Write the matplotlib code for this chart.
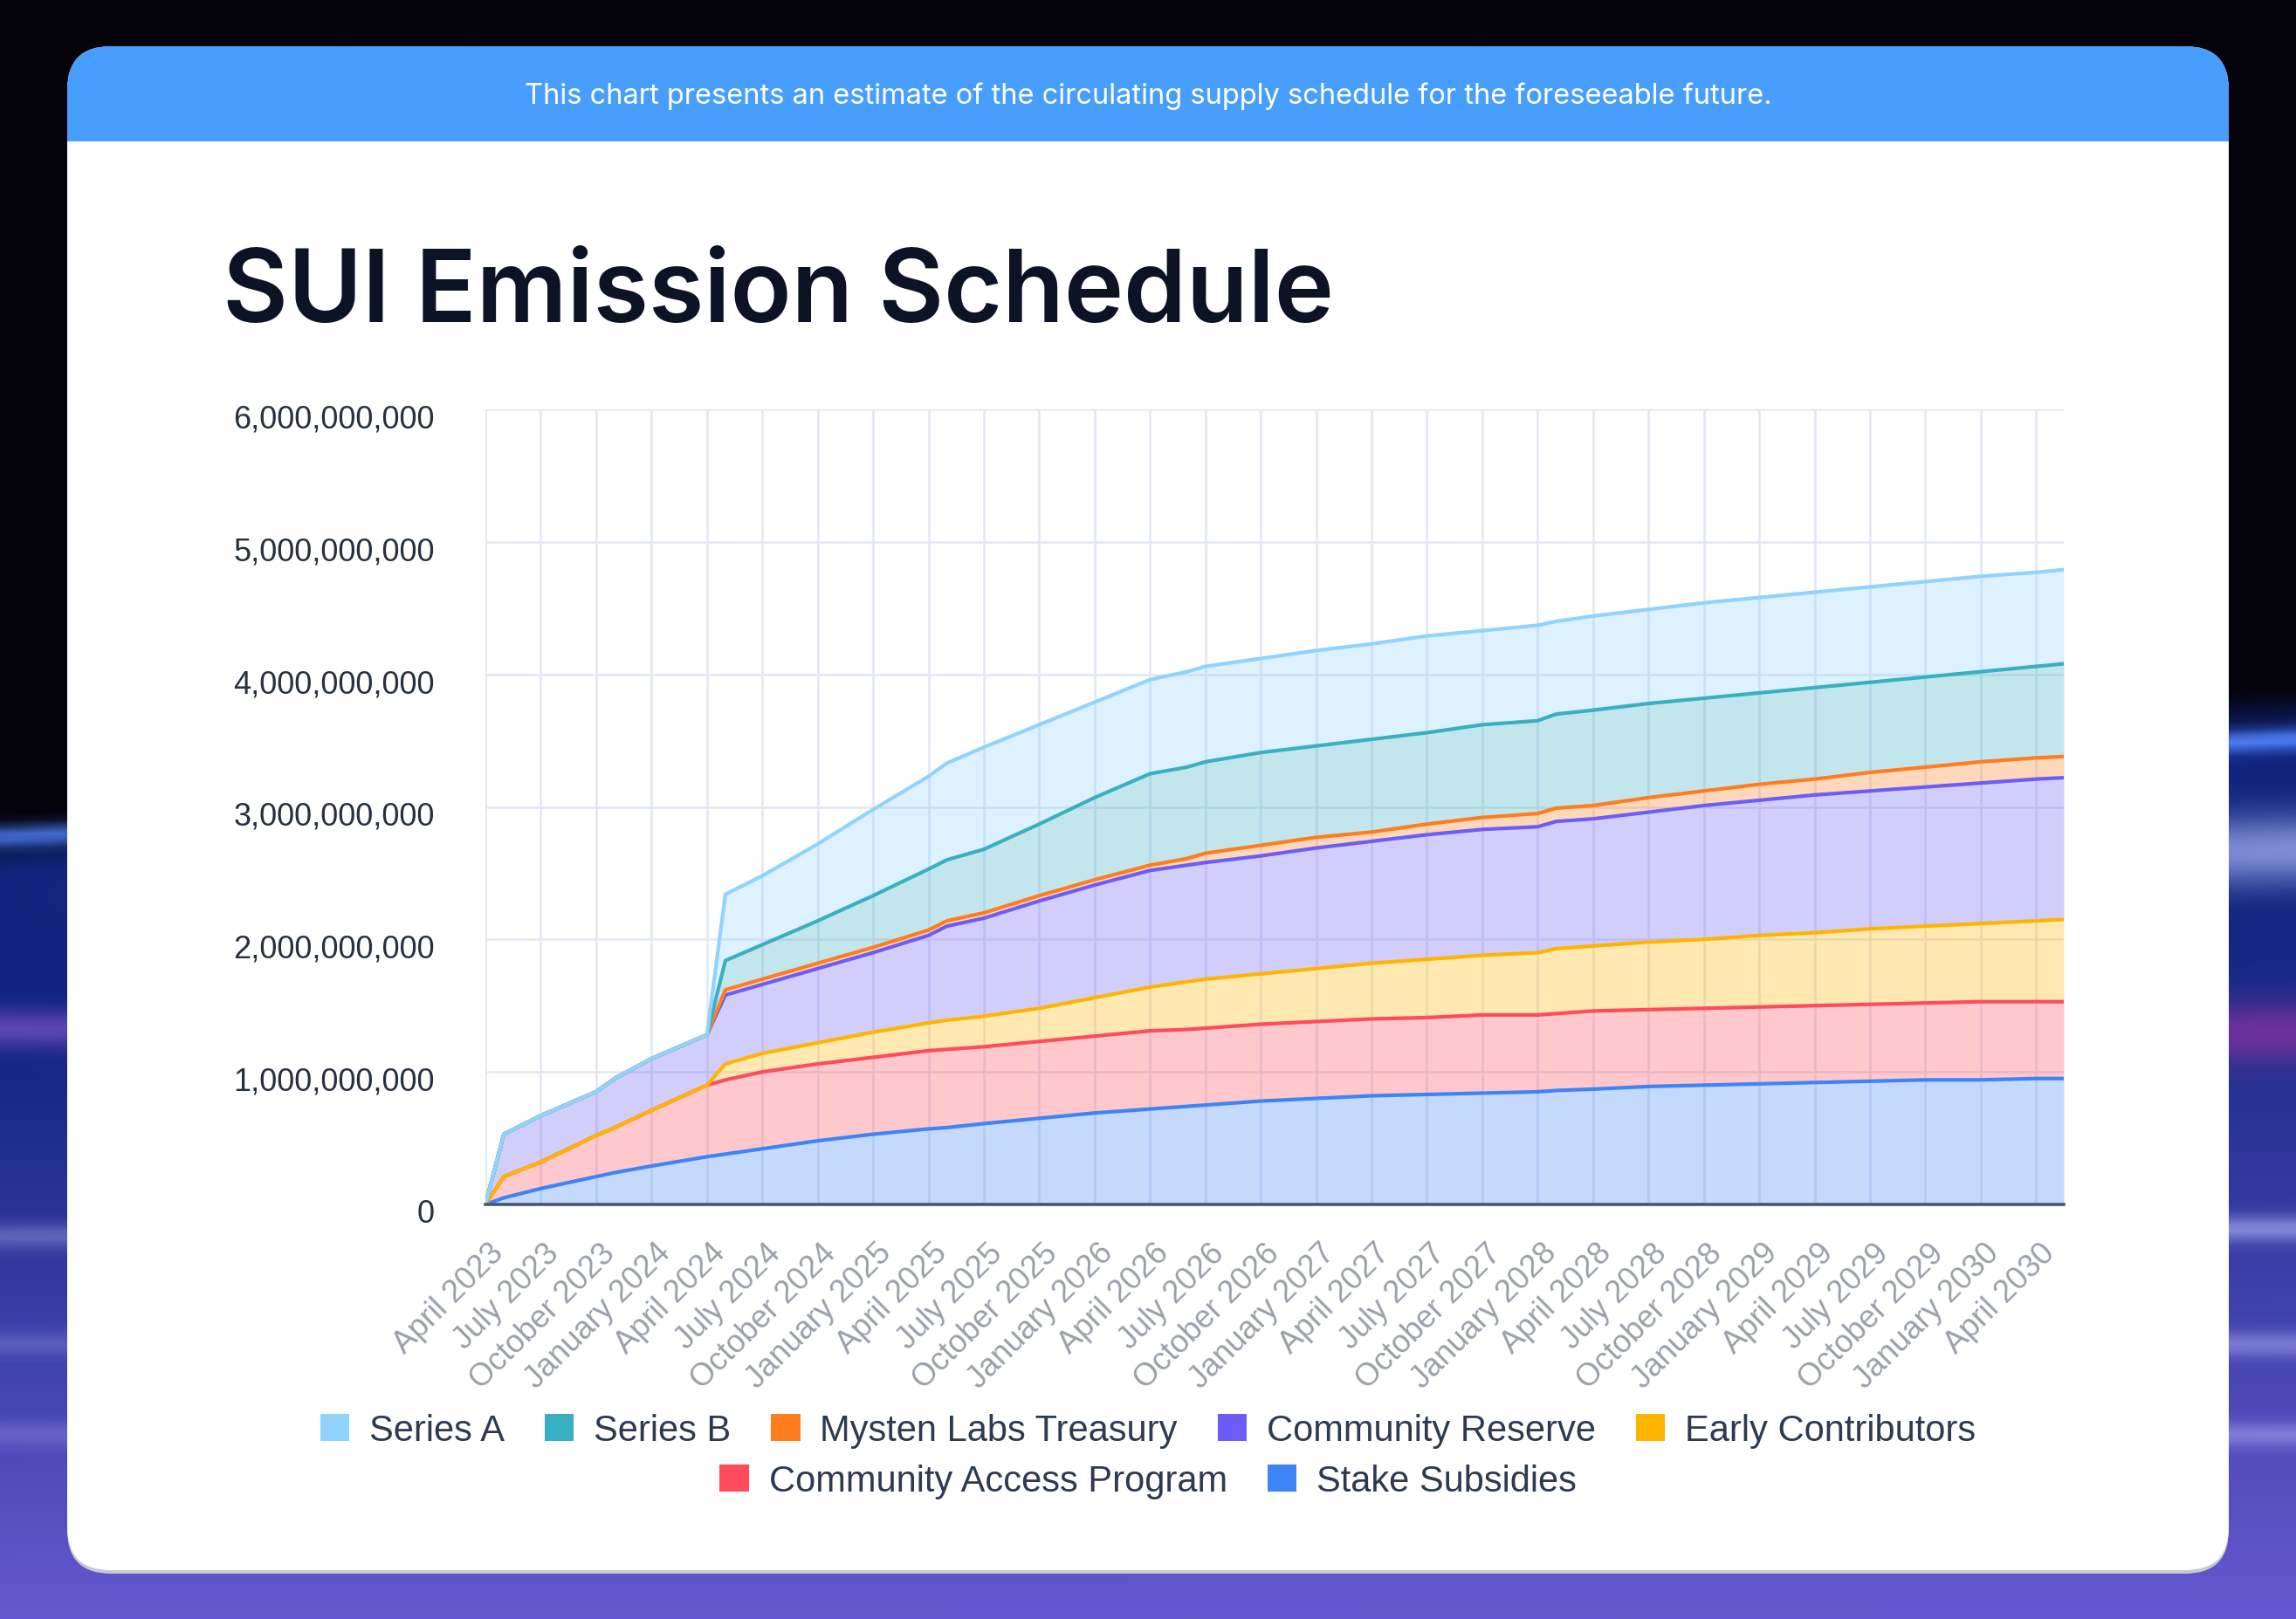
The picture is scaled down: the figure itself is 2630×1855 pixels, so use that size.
import numpy as np
import matplotlib.pyplot as plt
import matplotlib.transforms as mtransforms
from matplotlib.patches import FancyBboxPatch, Rectangle, Patch
from matplotlib.ticker import FuncFormatter

W, H = 2630, 1856

months = [0, 1, 3, 6, 7, 9, 12, 13, 15, 18, 21, 24, 25, 27, 30, 33, 36, 38, 39,
          42, 45, 48, 51, 54, 57, 58, 60, 63, 66, 69, 72, 75, 78, 81, 84, 85.5]

tick_labels = ["April 2023", "July 2023", "October 2023", "January 2024",
               "April 2024", "July 2024", "October 2024", "January 2025",
               "April 2025", "July 2025", "October 2025", "January 2026",
               "April 2026", "July 2026", "October 2026", "January 2027",
               "April 2027", "July 2027", "October 2027", "January 2028",
               "April 2028", "July 2028", "October 2028", "January 2029",
               "April 2029", "July 2029", "October 2029", "January 2030",
               "April 2030"]

# stacked totals (top edge of each band), in billions of SUI
stake_top = [0, 0.05, 0.12, 0.21, 0.24, 0.29, 0.36, 0.38, 0.42, 0.48, 0.53, 0.57,
             0.58, 0.61, 0.65, 0.69, 0.72, 0.74, 0.75, 0.78, 0.80, 0.82, 0.83,
             0.84, 0.85, 0.86, 0.87, 0.89, 0.90, 0.91, 0.92, 0.93, 0.94, 0.94,
             0.95, 0.95]
cap_top = [0, 0.21, 0.32, 0.52, 0.58, 0.71, 0.90, 0.94, 1.00, 1.06, 1.11, 1.16,
           1.17, 1.19, 1.23, 1.27, 1.31, 1.32, 1.33, 1.36, 1.38, 1.40, 1.41,
           1.43, 1.43, 1.44, 1.46, 1.47, 1.48, 1.49, 1.50, 1.51, 1.52, 1.53,
           1.53, 1.53]
early_top = [0, 0.21, 0.32, 0.52, 0.58, 0.71, 0.90, 1.06, 1.14, 1.22, 1.30, 1.37,
             1.39, 1.42, 1.48, 1.56, 1.64, 1.68, 1.70, 1.74, 1.78, 1.82, 1.85,
             1.88, 1.90, 1.93, 1.95, 1.98, 2.00, 2.03, 2.05, 2.08, 2.10, 2.12,
             2.14, 2.15]
reserve_top = [0, 0.53, 0.67, 0.85, 0.95, 1.10, 1.28, 1.58, 1.66, 1.78, 1.90, 2.03,
               2.10, 2.16, 2.29, 2.41, 2.52, 2.56, 2.58, 2.63, 2.69, 2.74, 2.79,
               2.83, 2.85, 2.89, 2.91, 2.96, 3.01, 3.05, 3.09, 3.12, 3.15, 3.18,
               3.21, 3.22]
treasury_top = [0, 0.53, 0.67, 0.85, 0.95, 1.10, 1.28, 1.62, 1.70, 1.82, 1.94, 2.07,
                2.14, 2.20, 2.33, 2.45, 2.56, 2.61, 2.65, 2.71, 2.77, 2.81, 2.87,
                2.92, 2.95, 2.99, 3.01, 3.07, 3.12, 3.17, 3.21, 3.26, 3.30, 3.34,
                3.37, 3.38]
series_b_top = [0, 0.53, 0.67, 0.85, 0.95, 1.10, 1.28, 1.84, 1.96, 2.14, 2.33, 2.53,
                2.60, 2.68, 2.87, 3.07, 3.25, 3.30, 3.34, 3.41, 3.46, 3.51, 3.56,
                3.62, 3.65, 3.70, 3.73, 3.78, 3.82, 3.86, 3.90, 3.94, 3.98, 4.02,
                4.06, 4.08]
series_a_top = [0, 0.53, 0.67, 0.85, 0.95, 1.10, 1.28, 2.34, 2.48, 2.72, 2.98, 3.23,
                3.33, 3.45, 3.62, 3.79, 3.96, 4.02, 4.06, 4.12, 4.18, 4.23, 4.29,
                4.33, 4.37, 4.40, 4.44, 4.49, 4.54, 4.58, 4.62, 4.66, 4.70, 4.74,
                4.77, 4.79]

legend_names = ["Series A", "Series B", "Mysten Labs Treasury", "Community Reserve",
                "Early Contributors", "Community Access Program", "Stake Subsidies"]
colors = ["#8FD3FE", "#39AFC3", "#FF7C1F", "#6C5DF8", "#FFB400", "#FF4B5C", "#3E84F6"]

# bottom to top drawing order
bands = [stake_top, cap_top, early_top, reserve_top, treasury_top, series_b_top, series_a_top]
band_colors = colors[::-1]


def background():
    h, w = 232, 329
    yy, xx = np.mgrid[0:h, 0:w]
    y = yy / (h - 1) * H
    t = xx / (w - 1)
    black = np.array([4, 3, 12]) / 255
    navy = np.array([16, 36, 125]) / 255
    purple = np.array([102, 88, 208]) / 255
    edge = 940 - 150 * t
    s = np.clip((y - edge) / 60, 0, 1)[..., None]
    g = np.clip((y - edge - 250) / (H - edge - 250), 0, 1)[..., None]
    img = black * (1 - s) + (navy * (1 - g) + purple * g) * s
    stripes = [
        (960, 848, 12, (80, 130, 250), 0.8, 0.95),
        (1030, 975, 40, (165, 175, 242), 0.0, 0.75),
        (1181, 1181, 22, (125, 85, 205), 0.7, 0.0),
        (1210, 1185, 35, (135, 50, 160), 0.0, 0.75),
        (1420, 1411, 14, (170, 170, 240), 0.4, 0.7),
        (1544, 1544, 14, (160, 160, 235), 0.3, 0.6),
        (1648, 1648, 14, (160, 160, 235), 0.3, 0.6),
    ]
    for yl, yr, sig, rgb, sl, sr in stripes:
        yc = yl + (yr - yl) * t
        a = (sl + (sr - sl) * t) * np.exp(-((y - yc) / sig) ** 2)
        a = a[..., None]
        img = img * (1 - a) + np.array(rgb) / 255 * a
    return np.clip(img, 0, 1)


fig = plt.figure(figsize=(W / 100, H / 100), dpi=100)

bg = fig.add_axes([0, 0, 1, 1], zorder=0)
bg.imshow(background(), extent=(0, W, H, 0), aspect="auto", interpolation="bilinear")
bg.set_xlim(0, W)
bg.set_ylim(H, 0)
bg.axis("off")

# card with a soft shadow, blue header band on top
bg.add_patch(FancyBboxPatch((77, 58), 2476, 1746, boxstyle="round,pad=0,rounding_size=50",
                            fc="#C9C9D3", ec="none"))
bg.add_patch(FancyBboxPatch((77, 54), 2476, 1746, boxstyle="round,pad=0,rounding_size=50",
                            fc="white", ec="none"))
bg.add_patch(FancyBboxPatch((77, 54), 2476, 180, boxstyle="round,pad=0,rounding_size=50",
                            fc="#479EFD", ec="none"))
bg.add_patch(Rectangle((77, 163), 2476, 90, fc="white", ec="none"))

fig.text(0.5, 1 - 110 / H, "This chart presents an estimate of the circulating supply schedule for the foreseeable future.",
         ha="center", va="center", fontsize=23.5, color="white", family="Inter")
fig.text(255 / W, 1 - 369 / H, "SUI Emission Schedule", ha="left", va="baseline",
         fontsize=83, color="#0B1324", family="Inter", weight="semibold")

ax = fig.add_axes([556 / W, 1 - 1381 / H, (2364 - 556) / W, (1381 - 470) / H], zorder=2)
ax.set_facecolor("white")

x = np.array(months)
lower = np.zeros(len(months))
for top, c in zip(bands, band_colors):
    upper = np.array(top) * 1e9
    ax.fill_between(x, lower, upper, color=c, alpha=0.3, lw=0)
    lower = upper
for top, c in zip(bands, band_colors):
    ax.plot(x, np.array(top) * 1e9, color=c, lw=3, solid_joinstyle="round")

ax.set_xlim(0, 85.5)
ax.set_ylim(0, 6e9)
ax.set_yticks(np.arange(0, 7) * 1e9)
ax.yaxis.set_major_formatter(FuncFormatter(lambda v, p: f"{v:,.0f}"))
ax.set_xticks(np.arange(len(tick_labels)) * 3)
ax.set_xticklabels(tick_labels, rotation=45, ha="right", va="center", rotation_mode="anchor")

ax.grid(True, color="#E2E7F3", lw=1.8)
ax.set_axisbelow(True)
for side in ["left", "right", "top"]:
    ax.spines[side].set_visible(False)
ax.spines["bottom"].set_color("#4B5670")
ax.spines["bottom"].set_linewidth(2.6)
ax.spines["bottom"].set_zorder(5)

ax.tick_params(axis="y", length=0, pad=42, labelsize=26, labelcolor="#27303F")
ax.tick_params(axis="x", length=0, pad=36, labelsize=26, labelcolor="#9AA0AB")
for lab in ax.get_yticklabels() + ax.get_xticklabels():
    lab.set_family("Liberation Sans")
shift = mtransforms.ScaledTranslation(0.16, 0, fig.dpi_scale_trans)
for lab in ax.get_xticklabels():
    lab.set_transform(lab.get_transform() + shift)
yshift = mtransforms.ScaledTranslation(0, -0.07, fig.dpi_scale_trans)
for lab in ax.get_yticklabels():
    lab.set_transform(lab.get_transform() + yshift)

handles = [Patch(facecolor=c, edgecolor="none", label=n) for n, c in zip(legend_names, colors)]
leg_kw = dict(loc="center", frameon=False, handlelength=0.8, handleheight=0.8,
              handletextpad=0.55, columnspacing=1.1, labelcolor="#2E3A4F",
              prop={"family": "Liberation Sans", "size": 30})
fig.legend(handles=handles[:5], bbox_to_anchor=(0.5, (H - 1640) / H), ncol=5, **leg_kw)
fig.legend(handles=handles[5:], bbox_to_anchor=(0.5, (H - 1698) / H), ncol=2, **leg_kw)

fig.savefig("out.png", dpi=100)
